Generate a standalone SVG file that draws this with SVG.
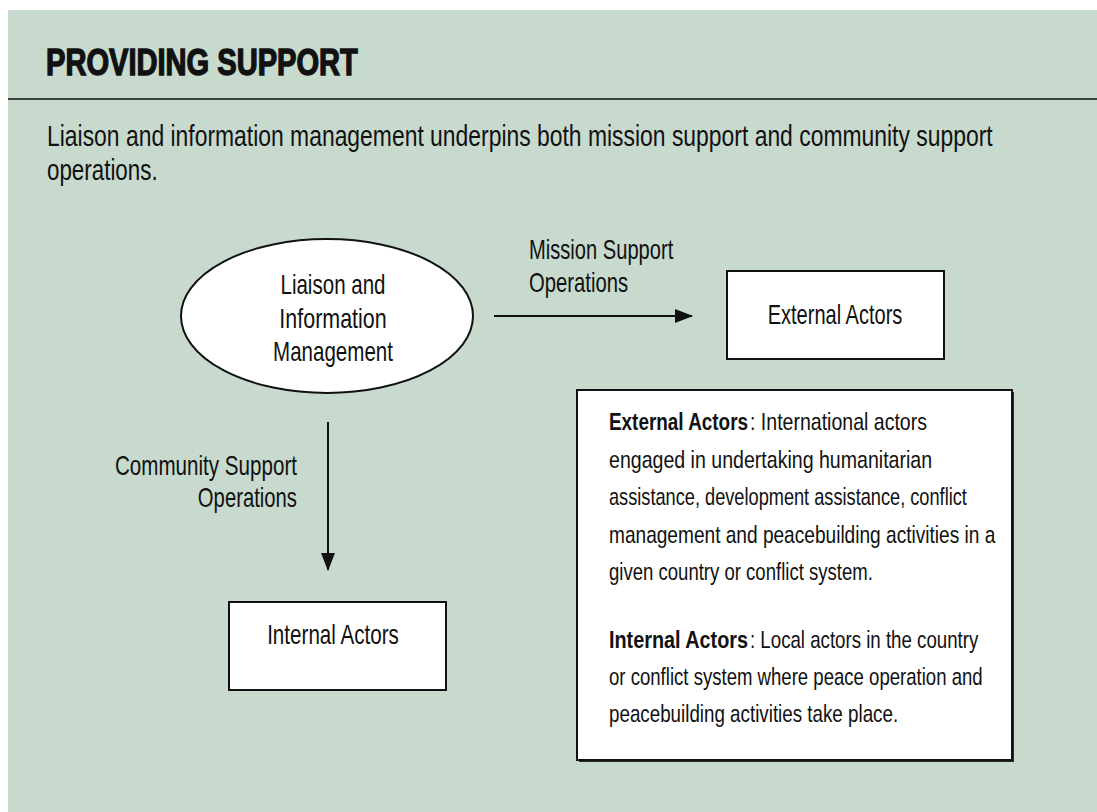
<svg xmlns="http://www.w3.org/2000/svg" width="1097" height="812" viewBox="0 0 1097 812">
  <style>
    .txt { font-family: "Liberation Sans", Arial, sans-serif; fill: #111; }
    .lbl { font-size: 27px; }
    .body { font-size: 24px; }
    .b { font-weight: bold; }
    .node { fill: #fff; stroke: #111; stroke-width: 2; }
    .edge { stroke: #111; stroke-width: 2; fill: none; }
  </style>
  <defs>
    <marker id="arrow" markerUnits="userSpaceOnUse" markerWidth="18" markerHeight="14" refX="17" refY="7" orient="auto">
      <path d="M0,0 L18,7 L0,14 Z" fill="#111"/>
    </marker>
  </defs>

  <!-- panel background -->
  <rect x="0" y="0" width="1097" height="812" fill="#ffffff"/>
  <rect x="8" y="10" width="1089" height="802" fill="#c7dacd"/>

  <!-- header (text condensed horizontally with a scale transform) -->
  <g id="header">
    <text class="txt" transform="translate(46 75) scale(0.77 1)" font-size="37" font-weight="bold" stroke="#111" stroke-width="1.4" textLength="405" lengthAdjust="spacingAndGlyphs">PROVIDING SUPPORT</text>
    <line x1="8" y1="99" x2="1097" y2="99" stroke="#3a3f3b" stroke-width="2"/>
    <text class="txt" transform="translate(47 146) scale(0.79 1)" font-size="29" textLength="1197" lengthAdjust="spacingAndGlyphs">Liaison and information management underpins both mission support and community support</text>
    <text class="txt" transform="translate(47 180) scale(0.79 1)" font-size="29" textLength="140" lengthAdjust="spacingAndGlyphs">operations.</text>
  </g>

  <!-- connectors -->
  <g id="connectors">
    <line class="edge" x1="494" y1="316" x2="692" y2="316" marker-end="url(#arrow)"/>
    <text class="txt lbl" transform="translate(529 259) scale(0.74 1)" textLength="195" lengthAdjust="spacingAndGlyphs">Mission Support</text>
    <text class="txt lbl" transform="translate(529 292) scale(0.74 1)" textLength="134" lengthAdjust="spacingAndGlyphs">Operations</text>

    <line class="edge" x1="328" y1="422" x2="328" y2="570" marker-end="url(#arrow)"/>
    <text class="txt lbl" transform="translate(297 475) scale(0.74 1)" text-anchor="end" textLength="246" lengthAdjust="spacingAndGlyphs">Community Support</text>
    <text class="txt lbl" transform="translate(297 507) scale(0.74 1)" text-anchor="end" textLength="134" lengthAdjust="spacingAndGlyphs">Operations</text>
  </g>

  <!-- source node -->
  <g id="liaison">
    <ellipse class="node" cx="327" cy="316" rx="146" ry="77"/>
    <text class="txt lbl" transform="translate(333 294) scale(0.74 1)" text-anchor="middle" textLength="142" lengthAdjust="spacingAndGlyphs">Liaison and</text>
    <text class="txt lbl" transform="translate(333 328) scale(0.74 1)" text-anchor="middle" textLength="145" lengthAdjust="spacingAndGlyphs">Information</text>
    <text class="txt lbl" transform="translate(333 361) scale(0.74 1)" text-anchor="middle" textLength="162" lengthAdjust="spacingAndGlyphs">Management</text>
  </g>

  <g id="external">
    <rect class="node" x="727" y="271" width="217" height="88"/>
    <text class="txt lbl" transform="translate(835 324) scale(0.74 1)" text-anchor="middle" textLength="182" lengthAdjust="spacingAndGlyphs">External Actors</text>
  </g>

  <g id="internal">
    <rect class="node" x="229" y="602" width="217" height="88"/>
    <text class="txt lbl" transform="translate(333 644) scale(0.74 1)" text-anchor="middle" textLength="178" lengthAdjust="spacingAndGlyphs">Internal Actors</text>
  </g>

  <!-- definitions box -->
  <g id="definitions">
    <rect x="579" y="392" width="435" height="370" fill="#2b2f2c"/>
    <rect class="node" x="577" y="390" width="435" height="370" stroke-width="1.6"/>
    <text class="txt body b" transform="translate(609 430) scale(0.79 1)" textLength="176" lengthAdjust="spacingAndGlyphs">External Actors</text>
    <text class="txt body" transform="translate(750 430) scale(0.79 1)" textLength="224" lengthAdjust="spacingAndGlyphs">: International actors</text>
    <text class="txt body" transform="translate(609 467.5) scale(0.79 1)" textLength="409" lengthAdjust="spacingAndGlyphs">engaged in undertaking humanitarian</text>
    <text class="txt body" transform="translate(609 505) scale(0.79 1)" textLength="453" lengthAdjust="spacingAndGlyphs">assistance, development assistance, conflict</text>
    <text class="txt body" transform="translate(609 542.5) scale(0.79 1)" textLength="489" lengthAdjust="spacingAndGlyphs">management and peacebuilding activities in a</text>
    <text class="txt body" transform="translate(609 580) scale(0.79 1)" textLength="334" lengthAdjust="spacingAndGlyphs">given country or conflict system.</text>
    <text class="txt body b" transform="translate(609 648) scale(0.79 1)" textLength="176" lengthAdjust="spacingAndGlyphs">Internal Actors</text>
    <text class="txt body" transform="translate(750 648) scale(0.79 1)" textLength="289" lengthAdjust="spacingAndGlyphs">: Local actors in the country</text>
    <text class="txt body" transform="translate(609 685) scale(0.79 1)" textLength="473" lengthAdjust="spacingAndGlyphs">or conflict system where peace operation and</text>
    <text class="txt body" transform="translate(609 722) scale(0.79 1)" textLength="366" lengthAdjust="spacingAndGlyphs">peacebuilding activities take place.</text>
  </g>
</svg>
